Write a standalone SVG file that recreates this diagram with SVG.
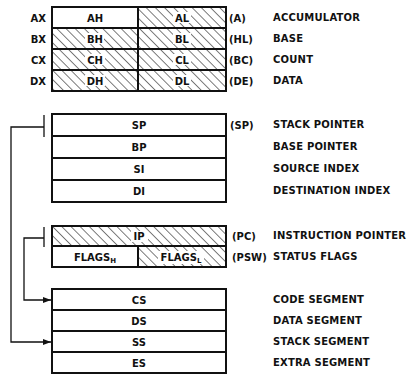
<svg xmlns="http://www.w3.org/2000/svg" width="415" height="375" viewBox="0 0 415 375">
<style>
text{font-family:"DejaVu Sans","Liberation Sans",sans-serif;font-weight:bold;font-size:10px;fill:#111}
.c{text-anchor:middle}
.e{text-anchor:end}
.d{letter-spacing:0.2px}
.box{fill:#fff;stroke:#111;stroke-width:2}
.hat{fill:url(#h);stroke:#111;stroke-width:2}
.bg{fill:#fff}
.ln{fill:none;stroke:#111;stroke-width:1.3}
</style>
<defs>
<pattern id="h" patternUnits="userSpaceOnUse" width="6.5" height="10" patternTransform="rotate(-45)">
<rect width="6.5" height="10" fill="#fff"/>
<line x1="0" y1="0" x2="0" y2="10" stroke="#111" stroke-width="1.1"/>
</pattern>
<marker id="ar" markerWidth="8" markerHeight="6" refX="8" refY="3" orient="auto" markerUnits="userSpaceOnUse">
<path d="M0,0 L8,3 L0,6 Z" fill="#111"/>
</marker>
</defs>

<g id="connectors">
<path class="ln" d="M44,127 H11 V342 H51" marker-end="url(#ar)"/>
<path class="ln" d="M44,238 H24 V300 H51" marker-end="url(#ar)"/>
<path class="ln" d="M44,115 V137 M44,227 V247"/>
</g>

<g id="AX">
<text class="e" x="46" y="22">AX</text>
<rect class="box" x="52" y="7" width="86" height="21"/>
<text class="c" x="95" y="22">AH</text>
<rect class="hat" x="138" y="7" width="88" height="21"/>
<rect class="bg" x="173" y="12" width="18" height="11"/>
<text class="c" x="182" y="22">AL</text>
<text x="229" y="22">(A)</text>
<text class="d" x="273" y="21">ACCUMULATOR</text>
</g>
<g id="BX">
<text class="e" x="46" y="43">BX</text>
<rect class="hat" x="52" y="28" width="86" height="21"/>
<rect class="bg" x="85" y="33" width="19" height="11"/>
<text class="c" x="95" y="43">BH</text>
<rect class="hat" x="138" y="28" width="88" height="21"/>
<rect class="bg" x="173" y="33" width="18" height="11"/>
<text class="c" x="182" y="43">BL</text>
<text x="229" y="43">(HL)</text>
<text class="d" x="273" y="42">BASE</text>
</g>
<g id="CX">
<text class="e" x="46" y="64">CX</text>
<rect class="hat" x="52" y="49" width="86" height="21"/>
<rect class="bg" x="85" y="54" width="20" height="11"/>
<text class="c" x="95" y="64">CH</text>
<rect class="hat" x="138" y="49" width="88" height="21"/>
<rect class="bg" x="173" y="54" width="18" height="11"/>
<text class="c" x="182" y="64">CL</text>
<text x="229" y="64">(BC)</text>
<text class="d" x="273" y="63">COUNT</text>
</g>
<g id="DX">
<text class="e" x="46" y="85">DX</text>
<rect class="hat" x="52" y="70" width="86" height="21"/>
<rect class="bg" x="85" y="75" width="20" height="11"/>
<text class="c" x="95" y="85">DH</text>
<rect class="hat" x="138" y="70" width="88" height="21"/>
<rect class="bg" x="173" y="75" width="18" height="11"/>
<text class="c" x="182" y="85">DL</text>
<text x="229" y="85">(DE)</text>
<text class="d" x="273" y="84">DATA</text>
</g>

<g id="SP">
<rect class="box" x="52" y="114" width="174" height="22"/>
<text class="c" x="139" y="129">SP</text>
<text x="230" y="129">(SP)</text>
<text class="d" x="273" y="128">STACK POINTER</text>
</g>
<g id="BP">
<rect class="box" x="52" y="136" width="174" height="22"/>
<text class="c" x="139" y="151">BP</text>
<text class="d" x="273" y="150">BASE POINTER</text>
</g>
<g id="SI">
<rect class="box" x="52" y="158" width="174" height="22"/>
<text class="c" x="139" y="173">SI</text>
<text class="d" x="273" y="172">SOURCE INDEX</text>
</g>
<g id="DI">
<rect class="box" x="52" y="180" width="174" height="22"/>
<text class="c" x="139" y="195">DI</text>
<text class="d" x="273" y="194">DESTINATION INDEX</text>
</g>

<g id="IP">
<rect class="hat" x="52" y="226" width="174" height="20"/>
<rect class="bg" x="131" y="231" width="17" height="11"/>
<text class="c" x="139" y="240">IP</text>
<text x="232" y="240">(PC)</text>
<text class="d" x="273" y="239">INSTRUCTION POINTER</text>
</g>
<g id="FLAGS">
<rect class="box" x="52" y="246" width="86" height="21"/>
<text class="c" x="95" y="261">FLAGS<tspan font-size="7" dy="2">H</tspan></text>
<rect class="hat" x="138" y="246" width="88" height="21"/>
<rect class="bg" x="158" y="251" width="46" height="13"/>
<text class="c" x="181" y="261">FLAGS<tspan font-size="7" dy="2">L</tspan></text>
<text x="232" y="261">(PSW)</text>
<text class="d" x="273" y="260">STATUS FLAGS</text>
</g>

<g id="CS">
<rect class="box" x="52" y="289" width="174" height="21"/>
<text class="c" x="139" y="304">CS</text>
<text class="d" x="273" y="303">CODE SEGMENT</text>
</g>
<g id="DS">
<rect class="box" x="52" y="310" width="174" height="21"/>
<text class="c" x="139" y="325">DS</text>
<text class="d" x="273" y="324">DATA SEGMENT</text>
</g>
<g id="SS">
<rect class="box" x="52" y="331" width="174" height="21"/>
<text class="c" x="139" y="346">SS</text>
<text class="d" x="273" y="345">STACK SEGMENT</text>
</g>
<g id="ES">
<rect class="box" x="52" y="352" width="174" height="21"/>
<text class="c" x="139" y="367">ES</text>
<text class="d" x="273" y="366">EXTRA SEGMENT</text>
</g>
</svg>
